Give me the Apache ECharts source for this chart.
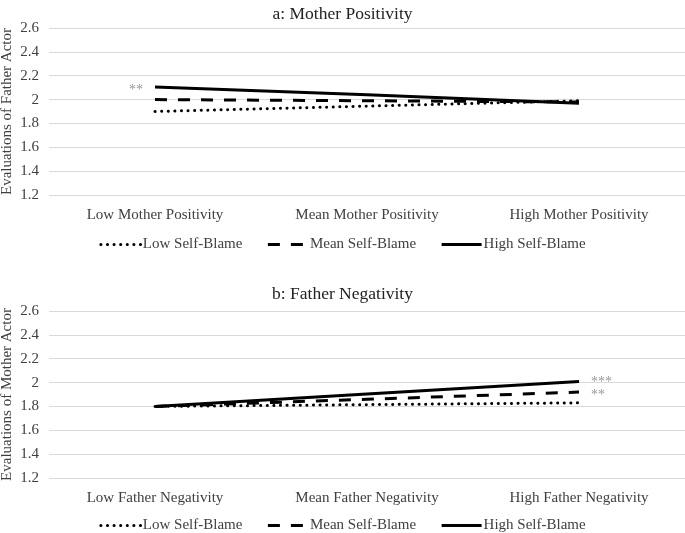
<!DOCTYPE html>
<html>
<head>
<meta charset="utf-8">
<script src="https://cdn.jsdelivr.net/npm/echarts@6/dist/echarts.min.js"></script>
<style>
html,body{margin:0;padding:0;background:#fff;}
#chart{width:685px;height:533px;}
</style>
</head>
<body>
<div id="chart"></div>
<script>
// ---- data ----
const titleA = 'a: Mother Positivity';
const titleB = 'b: Father Negativity';
const yNameA = 'Evaluations of Father Actor';
const yNameB = 'Evaluations of Mother Actor';
const categoriesA = ['Low Mother Positivity', 'Mean Mother Positivity', 'High Mother Positivity'];
const categoriesB = ['Low Father Negativity', 'Mean Father Negativity', 'High Father Negativity'];
const seriesNames = ['Low Self-Blame', 'Mean Self-Blame', 'High Self-Blame'];
const lowA = [1.90, 1.945, 1.99];
const meanA = [2.00, 1.99, 1.98];
const highA = [2.105, 2.04, 1.97];
const lowB = [1.80, 1.815, 1.83];
const meanB = [1.80, 1.86, 1.92];
const highB = [1.80, 1.905, 2.01];
const starsLowA = ['', '', ''];
const starsMeanA = ['', '', ''];
const starsHighA = ['**', '', ''];
const starsLowB = ['', '', ''];
const starsMeanB = ['', '', '**'];
const starsHighB = ['', '', '***'];
const yMin = 1.2, yMax = 2.6, yStep = 0.2;

// ---- styling ----
const FONT = 'Liberation Serif';
const TXT = '#404040';
const styles = [
  {type: [0.1, 6.5], cap: 'round', width: 3, starOffset: 3},
  {type: [12, 11], cap: 'butt', width: 3, starOffset: 3},
  {type: 'solid', cap: 'butt', width: 3, starOffset: 1}
];

function mkData(vals, stars, si) {
  return vals.map((v, i) => {
    if (!stars[i]) return v;
    return {
      value: v,
      label: {
        show: true,
        formatter: stars[i],
        position: i === 0 ? 'left' : 'right',
        distance: 12,
        offset: [0, i === 0 ? 3 : styles[si].starOffset],
        color: '#999',
        fontFamily: FONT,
        fontSize: 14
      }
    };
  });
}

function mkSeries(name, vals, stars, gi, si) {
  const s = styles[si];
  return {
    name: name,
    type: 'line',
    xAxisIndex: gi,
    yAxisIndex: gi,
    data: mkData(vals, stars, si),
    symbol: 'circle',
    symbolSize: 0.1,
    showSymbol: true,
    silent: true,
    animation: false,
    z: 2 + si,
    itemStyle: {color: '#000'},
    label: {show: false},
    lineStyle: {color: '#000', width: s.width, type: s.type, cap: s.cap}
  };
}

const grids = [
  {left: 49, right: 0, top: 28, height: 167, outerBoundsMode: 'none', containLabel: false},
  {left: 49, right: 0, top: 311, height: 167, outerBoundsMode: 'none', containLabel: false}
];

function mkX(cats, gi) {
  return {
    type: 'category', gridIndex: gi, data: cats, boundaryGap: true,
    axisLine: {show: false}, axisTick: {show: false},
    axisLabel: {color: TXT, fontFamily: FONT, fontSize: 15, margin: 13}
  };
}
function mkY(name, gi) {
  return {
    type: 'value', gridIndex: gi, min: yMin, max: yMax, interval: yStep,
    name: name, nameLocation: 'middle', nameGap: 34, nameRotate: 90,
    nameMoveOverlap: false,
    nameTextStyle: {color: TXT, fontFamily: FONT, fontSize: 15},
    axisLine: {show: false}, axisTick: {show: false},
    axisLabel: {color: TXT, fontFamily: FONT, fontSize: 15, margin: 10,
      formatter: v => String(Math.round(v * 10) / 10)},
    splitLine: {lineStyle: {color: '#d9d9d9', width: 1}}
  };
}

const legendBase = {
  data: seriesNames,
  left: 'center',
  itemWidth: 40, itemHeight: 10, itemGap: 24,
  itemStyle: {opacity: 0},
  lineStyle: {width: 3},
  textStyle: {color: TXT, fontFamily: FONT, fontSize: 15, padding: [0, 0, 0, -3]},
  selectedMode: false
};

const chart = echarts.init(document.getElementById('chart'));
chart.setOption({
  backgroundColor: '#fff',
  animation: false,
  title: [
    {text: titleA, left: 'center', top: 0, textStyle: {color: '#222', fontFamily: FONT, fontSize: 17.5, fontWeight: 'normal'}},
    {text: titleB, left: 'center', top: 280, textStyle: {color: '#222', fontFamily: FONT, fontSize: 17.5, fontWeight: 'normal'}}
  ],
  legend: [
    Object.assign({}, legendBase, {top: 232}),
    Object.assign({}, legendBase, {top: 513})
  ],
  grid: grids,
  xAxis: [mkX(categoriesA, 0), mkX(categoriesB, 1)],
  yAxis: [mkY(yNameA, 0), mkY(yNameB, 1)],
  series: [
    mkSeries(seriesNames[0], lowA, starsLowA, 0, 0),
    mkSeries(seriesNames[1], meanA, starsMeanA, 0, 1),
    mkSeries(seriesNames[2], highA, starsHighA, 0, 2),
    mkSeries(seriesNames[0], lowB, starsLowB, 1, 0),
    mkSeries(seriesNames[1], meanB, starsMeanB, 1, 1),
    mkSeries(seriesNames[2], highB, starsHighB, 1, 2)
  ]
});
</script>
</body>
</html>
